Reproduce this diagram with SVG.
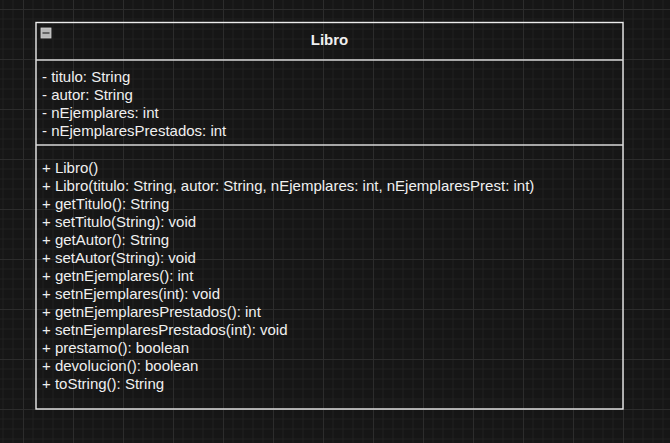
<svg xmlns="http://www.w3.org/2000/svg" width="670" height="443" viewBox="0 0 670 443">
  <defs>
    <pattern id="grid" patternUnits="userSpaceOnUse" x="23" y="9" width="50" height="50">
      <path d="M10 0V50M20 0V50M30 0V50M40 0V50M0 10H50M0 20H50M0 30H50M0 40H50" stroke="#202020" stroke-width="1" fill="none"/>
      <path d="M0.5 0V50M0 0.5H50" stroke="#2c2c2c" stroke-width="1" fill="none"/>
    </pattern>
    <style>
      .t { font-family: "Liberation Sans", Arial, sans-serif; font-size: 15px; fill: #f0f0f0; }
      .title { font-weight: bold; text-anchor: middle; }
      .box { fill: none; stroke: #ececec; stroke-width: 1.4; }
      .div { stroke: #d8d8d8; stroke-width: 1.4; }
    </style>
  </defs>
  <rect x="0" y="0" width="670" height="443" fill="#161616"/>
  <rect x="0" y="0" width="670" height="443" fill="url(#grid)"/>
  <g id="Libro">
    <rect class="box" x="36" y="22.5" width="587" height="386.5"/>
    <line class="div" x1="36" y1="60" x2="623" y2="60"/>
    <line class="div" x1="36" y1="145" x2="623" y2="145"/>
    <g id="collapse">
      <rect x="41" y="28" width="10" height="10" fill="#b8b8b8" stroke="#d0d0d0" stroke-width="0.8"/>
      <line x1="42.5" y1="33" x2="49.5" y2="33" stroke="#505050" stroke-width="1.6"/>
    </g>
    <text class="t title" x="329.5" y="45">Libro</text>
    <text class="t" x="42" y="82">- titulo: String</text>
    <text class="t" x="42" y="100">- autor: String</text>
    <text class="t" x="42" y="118">- nEjemplares: int</text>
    <text class="t" x="42" y="136">- nEjemplaresPrestados: int</text>
    <text class="t" x="42" y="173">+ Libro()</text>
    <text class="t" x="42" y="191">+ Libro(titulo: String, autor: String, nEjemplares: int, nEjemplaresPrest: int)</text>
    <text class="t" x="42" y="209">+ getTitulo(): String</text>
    <text class="t" x="42" y="227">+ setTitulo(String): void</text>
    <text class="t" x="42" y="245">+ getAutor(): String</text>
    <text class="t" x="42" y="263">+ setAutor(String): void</text>
    <text class="t" x="42" y="281">+ getnEjemplares(): int</text>
    <text class="t" x="42" y="299">+ setnEjemplares(int): void</text>
    <text class="t" x="42" y="317">+ getnEjemplaresPrestados(): int</text>
    <text class="t" x="42" y="335">+ setnEjemplaresPrestados(int): void</text>
    <text class="t" x="42" y="353">+ prestamo(): boolean</text>
    <text class="t" x="42" y="371">+ devolucion(): boolean</text>
    <text class="t" x="42" y="389">+ toString(): String</text>
  </g>
  <g id="connectors"/>
</svg>
